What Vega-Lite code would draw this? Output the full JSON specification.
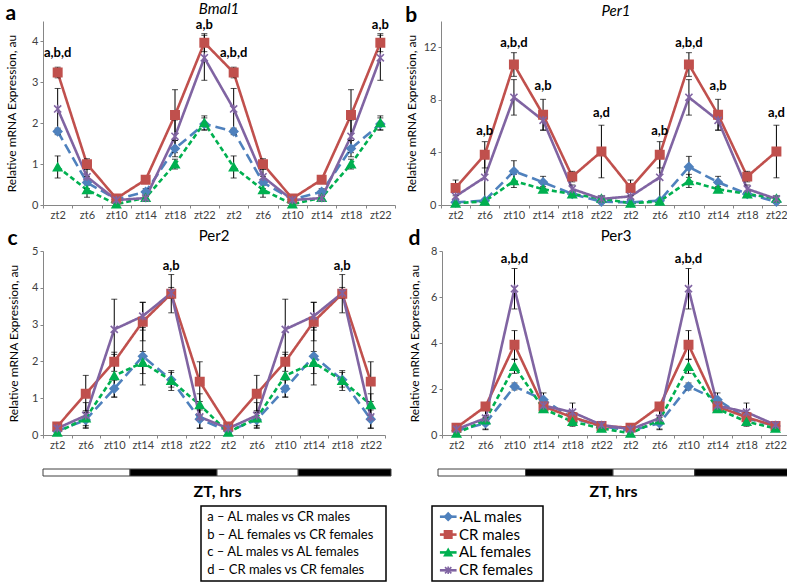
{
  "$schema": "https://vega.github.io/schema/vega-lite/v6.json",
  "background": "white",
  "padding": {"left": 5, "top": 1, "right": 2, "bottom": 0},
  "datasets": {
    "expr": [
      {"p":"a","s":"AL males","h":2,"v":1.80,"e":0.08},{"p":"a","s":"AL males","h":6,"v":0.55,"e":0.15},{"p":"a","s":"AL males","h":10,"v":0.14,"e":0.04},{"p":"a","s":"AL males","h":14,"v":0.32,"e":0.08},{"p":"a","s":"AL males","h":18,"v":1.38,"e":0.20},{"p":"a","s":"AL males","h":22,"v":1.98,"e":0.15},
      {"p":"a","s":"AL males","h":26,"v":1.80,"e":0.08},{"p":"a","s":"AL males","h":30,"v":0.55,"e":0.15},{"p":"a","s":"AL males","h":34,"v":0.14,"e":0.04},{"p":"a","s":"AL males","h":38,"v":0.32,"e":0.08},{"p":"a","s":"AL males","h":42,"v":1.38,"e":0.20},{"p":"a","s":"AL males","h":46,"v":1.98,"e":0.15},
      {"p":"a","s":"CR males","h":2,"v":3.24,"e":0.13},{"p":"a","s":"CR males","h":6,"v":1.00,"e":0.13},{"p":"a","s":"CR males","h":10,"v":0.16,"e":0.03},{"p":"a","s":"CR males","h":14,"v":0.62,"e":0.04},{"p":"a","s":"CR males","h":18,"v":2.20,"e":0.62},{"p":"a","s":"CR males","h":22,"v":3.97,"e":0.22},
      {"p":"a","s":"CR males","h":26,"v":3.24,"e":0.13},{"p":"a","s":"CR males","h":30,"v":1.00,"e":0.13},{"p":"a","s":"CR males","h":34,"v":0.16,"e":0.03},{"p":"a","s":"CR males","h":38,"v":0.62,"e":0.04},{"p":"a","s":"CR males","h":42,"v":2.20,"e":0.62},{"p":"a","s":"CR males","h":46,"v":3.97,"e":0.22},
      {"p":"a","s":"AL females","h":2,"v":0.93,"e":0.27},{"p":"a","s":"AL females","h":6,"v":0.37,"e":0.18},{"p":"a","s":"AL females","h":10,"v":0.02,"e":0.02},{"p":"a","s":"AL females","h":14,"v":0.18,"e":0.03},{"p":"a","s":"AL females","h":18,"v":1.00,"e":0.12},{"p":"a","s":"AL females","h":22,"v":2.01,"e":0.17},
      {"p":"a","s":"AL females","h":26,"v":0.93,"e":0.27},{"p":"a","s":"AL females","h":30,"v":0.37,"e":0.18},{"p":"a","s":"AL females","h":34,"v":0.02,"e":0.02},{"p":"a","s":"AL females","h":38,"v":0.18,"e":0.03},{"p":"a","s":"AL females","h":42,"v":1.00,"e":0.12},{"p":"a","s":"AL females","h":46,"v":2.01,"e":0.17},
      {"p":"a","s":"CR females","h":2,"v":2.35,"e":0.50},{"p":"a","s":"CR females","h":6,"v":0.69,"e":0.20},{"p":"a","s":"CR females","h":10,"v":0.12,"e":0.04},{"p":"a","s":"CR females","h":14,"v":0.17,"e":0.04},{"p":"a","s":"CR females","h":18,"v":1.68,"e":0.40},{"p":"a","s":"CR females","h":22,"v":3.60,"e":0.55},
      {"p":"a","s":"CR females","h":26,"v":2.35,"e":0.50},{"p":"a","s":"CR females","h":30,"v":0.69,"e":0.20},{"p":"a","s":"CR females","h":34,"v":0.12,"e":0.04},{"p":"a","s":"CR females","h":38,"v":0.17,"e":0.04},{"p":"a","s":"CR females","h":42,"v":1.68,"e":0.40},{"p":"a","s":"CR females","h":46,"v":3.60,"e":0.55},

      {"p":"b","s":"AL males","h":2,"v":0.20,"e":0.10},{"p":"b","s":"AL males","h":6,"v":0.33,"e":0.10},{"p":"b","s":"AL males","h":10,"v":2.57,"e":0.80},{"p":"b","s":"AL males","h":14,"v":1.73,"e":0.45},{"p":"b","s":"AL males","h":18,"v":0.84,"e":0.20},{"p":"b","s":"AL males","h":22,"v":0.25,"e":0.10},
      {"p":"b","s":"AL males","h":26,"v":0.20,"e":0.10},{"p":"b","s":"AL males","h":30,"v":0.33,"e":0.10},{"p":"b","s":"AL males","h":34,"v":2.90,"e":0.80},{"p":"b","s":"AL males","h":38,"v":1.73,"e":0.45},{"p":"b","s":"AL males","h":42,"v":0.84,"e":0.20},{"p":"b","s":"AL males","h":46,"v":0.25,"e":0.10},
      {"p":"b","s":"CR males","h":2,"v":1.30,"e":0.60},{"p":"b","s":"CR males","h":6,"v":3.82,"e":1.00},{"p":"b","s":"CR males","h":10,"v":10.69,"e":0.90},{"p":"b","s":"CR males","h":14,"v":6.87,"e":1.17},{"p":"b","s":"CR males","h":18,"v":2.16,"e":0.40},{"p":"b","s":"CR males","h":22,"v":4.07,"e":2.00},
      {"p":"b","s":"CR males","h":26,"v":1.30,"e":0.60},{"p":"b","s":"CR males","h":30,"v":3.82,"e":1.00},{"p":"b","s":"CR males","h":34,"v":10.69,"e":0.90},{"p":"b","s":"CR males","h":38,"v":6.87,"e":1.17},{"p":"b","s":"CR males","h":42,"v":2.16,"e":0.40},{"p":"b","s":"CR males","h":46,"v":4.07,"e":2.00},
      {"p":"b","s":"AL females","h":2,"v":0.13,"e":0.05},{"p":"b","s":"AL females","h":6,"v":0.28,"e":0.10},{"p":"b","s":"AL females","h":10,"v":1.83,"e":0.50},{"p":"b","s":"AL females","h":14,"v":1.20,"e":0.20},{"p":"b","s":"AL females","h":18,"v":0.84,"e":0.20},{"p":"b","s":"AL females","h":22,"v":0.50,"e":0.20},
      {"p":"b","s":"AL females","h":26,"v":0.13,"e":0.05},{"p":"b","s":"AL females","h":30,"v":0.28,"e":0.10},{"p":"b","s":"AL females","h":34,"v":1.83,"e":0.50},{"p":"b","s":"AL females","h":38,"v":1.20,"e":0.20},{"p":"b","s":"AL females","h":42,"v":0.84,"e":0.20},{"p":"b","s":"AL females","h":46,"v":0.50,"e":0.20},
      {"p":"b","s":"CR females","h":2,"v":0.66,"e":0.30},{"p":"b","s":"CR females","h":6,"v":2.11,"e":1.90},{"p":"b","s":"CR females","h":10,"v":8.19,"e":1.35},{"p":"b","s":"CR females","h":14,"v":6.44,"e":0.75},{"p":"b","s":"CR females","h":18,"v":1.22,"e":0.30},{"p":"b","s":"CR females","h":22,"v":0.46,"e":0.15},
      {"p":"b","s":"CR females","h":26,"v":0.66,"e":0.30},{"p":"b","s":"CR females","h":30,"v":2.11,"e":1.90},{"p":"b","s":"CR females","h":34,"v":8.19,"e":1.35},{"p":"b","s":"CR females","h":38,"v":6.44,"e":0.75},{"p":"b","s":"CR females","h":42,"v":1.22,"e":0.30},{"p":"b","s":"CR females","h":46,"v":0.46,"e":0.15},

      {"p":"c","s":"AL males","h":2,"v":0.11,"e":0.05},{"p":"c","s":"AL males","h":6,"v":0.41,"e":0.20},{"p":"c","s":"AL males","h":10,"v":1.26,"e":0.23},{"p":"c","s":"AL males","h":14,"v":2.14,"e":0.78},{"p":"c","s":"AL males","h":18,"v":1.50,"e":0.20},{"p":"c","s":"AL males","h":22,"v":0.43,"e":0.25},
      {"p":"c","s":"AL males","h":26,"v":0.11,"e":0.05},{"p":"c","s":"AL males","h":30,"v":0.41,"e":0.20},{"p":"c","s":"AL males","h":34,"v":1.26,"e":0.23},{"p":"c","s":"AL males","h":38,"v":2.14,"e":0.78},{"p":"c","s":"AL males","h":42,"v":1.50,"e":0.20},{"p":"c","s":"AL males","h":46,"v":0.43,"e":0.25},
      {"p":"c","s":"CR males","h":2,"v":0.23,"e":0.05},{"p":"c","s":"CR males","h":6,"v":1.12,"e":0.50},{"p":"c","s":"CR males","h":10,"v":1.99,"e":0.26},{"p":"c","s":"CR males","h":14,"v":3.08,"e":0.52},{"p":"c","s":"CR males","h":18,"v":3.84,"e":0.52},{"p":"c","s":"CR males","h":22,"v":1.45,"e":0.54},
      {"p":"c","s":"CR males","h":26,"v":0.23,"e":0.05},{"p":"c","s":"CR males","h":30,"v":1.12,"e":0.50},{"p":"c","s":"CR males","h":34,"v":1.99,"e":0.26},{"p":"c","s":"CR males","h":38,"v":3.08,"e":0.52},{"p":"c","s":"CR males","h":42,"v":3.84,"e":0.52},{"p":"c","s":"CR males","h":46,"v":1.45,"e":0.54},
      {"p":"c","s":"AL females","h":2,"v":0.07,"e":0.03},{"p":"c","s":"AL females","h":6,"v":0.46,"e":0.20},{"p":"c","s":"AL females","h":10,"v":1.61,"e":0.58},{"p":"c","s":"AL females","h":14,"v":1.97,"e":0.30},{"p":"c","s":"AL females","h":18,"v":1.48,"e":0.27},{"p":"c","s":"AL females","h":22,"v":0.82,"e":0.30},
      {"p":"c","s":"AL females","h":26,"v":0.07,"e":0.03},{"p":"c","s":"AL females","h":30,"v":0.46,"e":0.20},{"p":"c","s":"AL females","h":34,"v":1.61,"e":0.58},{"p":"c","s":"AL females","h":38,"v":1.97,"e":0.30},{"p":"c","s":"AL females","h":42,"v":1.48,"e":0.27},{"p":"c","s":"AL females","h":46,"v":0.82,"e":0.30},
      {"p":"c","s":"CR females","h":2,"v":0.18,"e":0.05},{"p":"c","s":"CR females","h":6,"v":0.53,"e":0.35},{"p":"c","s":"CR females","h":10,"v":2.87,"e":0.82},{"p":"c","s":"CR females","h":14,"v":3.23,"e":0.38},{"p":"c","s":"CR females","h":18,"v":3.86,"e":0.15},{"p":"c","s":"CR females","h":22,"v":0.49,"e":0.30},
      {"p":"c","s":"CR females","h":26,"v":0.18,"e":0.05},{"p":"c","s":"CR females","h":30,"v":0.53,"e":0.35},{"p":"c","s":"CR females","h":34,"v":2.87,"e":0.82},{"p":"c","s":"CR females","h":38,"v":3.23,"e":0.38},{"p":"c","s":"CR females","h":42,"v":3.86,"e":0.15},{"p":"c","s":"CR females","h":46,"v":0.49,"e":0.30},

      {"p":"d","s":"AL males","h":2,"v":0.19,"e":0.05},{"p":"d","s":"AL males","h":6,"v":0.51,"e":0.25},{"p":"d","s":"AL males","h":10,"v":2.11,"e":0.15},{"p":"d","s":"AL males","h":14,"v":1.53,"e":0.30},{"p":"d","s":"AL males","h":18,"v":0.73,"e":0.15},{"p":"d","s":"AL males","h":22,"v":0.39,"e":0.05},
      {"p":"d","s":"AL males","h":26,"v":0.19,"e":0.05},{"p":"d","s":"AL males","h":30,"v":0.51,"e":0.25},{"p":"d","s":"AL males","h":34,"v":2.11,"e":0.15},{"p":"d","s":"AL males","h":38,"v":1.53,"e":0.30},{"p":"d","s":"AL males","h":42,"v":0.73,"e":0.15},{"p":"d","s":"AL males","h":46,"v":0.39,"e":0.05},
      {"p":"d","s":"CR males","h":2,"v":0.32,"e":0.05},{"p":"d","s":"CR males","h":6,"v":1.24,"e":0.16},{"p":"d","s":"CR males","h":10,"v":3.92,"e":0.62},{"p":"d","s":"CR males","h":14,"v":1.24,"e":0.15},{"p":"d","s":"CR males","h":18,"v":0.77,"e":0.20},{"p":"d","s":"CR males","h":22,"v":0.39,"e":0.05},
      {"p":"d","s":"CR males","h":26,"v":0.32,"e":0.05},{"p":"d","s":"CR males","h":30,"v":1.24,"e":0.16},{"p":"d","s":"CR males","h":34,"v":3.92,"e":0.62},{"p":"d","s":"CR males","h":38,"v":1.24,"e":0.15},{"p":"d","s":"CR males","h":42,"v":0.77,"e":0.20},{"p":"d","s":"CR males","h":46,"v":0.39,"e":0.05},
      {"p":"d","s":"AL females","h":2,"v":0.07,"e":0.03},{"p":"d","s":"AL females","h":6,"v":0.65,"e":0.20},{"p":"d","s":"AL females","h":10,"v":2.98,"e":0.30},{"p":"d","s":"AL females","h":14,"v":1.14,"e":0.10},{"p":"d","s":"AL females","h":18,"v":0.58,"e":0.20},{"p":"d","s":"AL females","h":22,"v":0.29,"e":0.05},
      {"p":"d","s":"AL females","h":26,"v":0.07,"e":0.03},{"p":"d","s":"AL females","h":30,"v":0.65,"e":0.20},{"p":"d","s":"AL females","h":34,"v":2.98,"e":0.30},{"p":"d","s":"AL females","h":38,"v":1.14,"e":0.10},{"p":"d","s":"AL females","h":42,"v":0.58,"e":0.20},{"p":"d","s":"AL females","h":46,"v":0.29,"e":0.05},
      {"p":"d","s":"CR females","h":2,"v":0.25,"e":0.05},{"p":"d","s":"CR females","h":6,"v":0.73,"e":0.50},{"p":"d","s":"CR females","h":10,"v":6.36,"e":0.88},{"p":"d","s":"CR females","h":14,"v":1.28,"e":0.20},{"p":"d","s":"CR females","h":18,"v":0.99,"e":0.40},{"p":"d","s":"CR females","h":22,"v":0.44,"e":0.05},
      {"p":"d","s":"CR females","h":26,"v":0.25,"e":0.05},{"p":"d","s":"CR females","h":30,"v":0.73,"e":0.50},{"p":"d","s":"CR females","h":34,"v":6.36,"e":0.88},{"p":"d","s":"CR females","h":38,"v":1.28,"e":0.20},{"p":"d","s":"CR females","h":42,"v":0.99,"e":0.40},{"p":"d","s":"CR females","h":46,"v":0.44,"e":0.05}
    ],
    "sig": [
      {"p":"a","h":2,"t":"a,b,d","y":3.72},{"p":"a","h":22,"t":"a,b","y":4.41},{"p":"a","h":26,"t":"a,b,d","y":3.72},{"p":"a","h":46,"t":"a,b","y":4.41},
      {"p":"b","h":6,"t":"a,b","y":5.6},{"p":"b","h":10,"t":"a,b,d","y":12.35},{"p":"b","h":14,"t":"a,b","y":9.03},{"p":"b","h":22,"t":"a,d","y":7.02},
      {"p":"b","h":30,"t":"a,b","y":5.6},{"p":"b","h":34,"t":"a,b,d","y":12.35},{"p":"b","h":38,"t":"a,b","y":9.03},{"p":"b","h":46,"t":"a,d","y":7.02},
      {"p":"c","h":18,"t":"a,b","y":4.59},{"p":"c","h":42,"t":"a,b","y":4.59},
      {"p":"d","h":10,"t":"a,b,d","y":7.67},{"p":"d","h":34,"t":"a,b,d","y":7.67}
    ],
    "phases": [
      {"a":0,"b":3,"ph":"light"},{"a":3,"b":6,"ph":"dark"},{"a":6,"b":8.8,"ph":"light"},{"a":8.8,"b":12,"ph":"dark"}
    ],
    "notes": [
      {"i":1,"t":"a – AL males vs CR males"},{"i":2,"t":"b – AL females vs CR females"},{"i":3,"t":"c – AL males vs AL females"},{"i":4,"t":"d – CR males vs CR females"}
    ],
    "series": [
      {"s":"AL males","lab":"·AL males"},{"s":"CR males","lab":"CR males"},{"s":"AL females","lab":"AL females"},{"s":"CR females","lab":"CR females"}
    ],
    "empty": []
  },
  "vconcat": [
    {
      "vconcat": [
        {
          "hconcat": [
            {
              "title": {"text": "a", "anchor": "start", "fontSize": 21, "fontWeight": "bold", "offset": -22},
              "vconcat": [{
                "title": {"text": "Bmal1", "fontStyle": "italic", "fontSize": 15, "fontWeight": "normal", "offset": 2},
                "width": 352, "height": 184,
                "encoding": {"x": {"field": "h", "type": "ordinal", "scale": {"type": "band", "paddingInner": 0, "paddingOuter": 0}, "axis": {"title": null, "labelExpr": "isNumber(datum.value) ? 'zt' + (datum.value % 24) : ''", "labelAngle": 0, "tickBand": "extent", "labelPadding": 1}}},
                "layer": [
                  {"data": {"name": "expr"}, "transform": [{"filter": "datum.p === 'a'"}],
                   "mark": {"type": "line", "strokeWidth": 2.6},
                   "encoding": {
                     "y": {"field": "v", "type": "quantitative", "scale": {"domain": [0, 4.5], "nice": false}, "axis": {"values": [0,1,2,3,4], "title": "Relative mRNA Expression, au", "titlePadding": 13}},
                     "color": {"field": "s", "type": "nominal", "scale": {"domain": ["AL males","CR males","AL females","CR females"], "range": ["#4F81BD","#C0504D","#00B050","#8064A2"]}, "legend": null},
                     "strokeDash": {"field": "s", "type": "nominal", "scale": {"domain": ["AL males","CR males","AL females","CR females"], "range": [[10,5],[1,0],[5,3],[1,0]]}, "legend": null}}},
                  {"data": {"name": "expr"}, "transform": [{"filter": "datum.p === 'a'"}],
                   "mark": {"type": "errorbar", "color": "black", "thickness": 1, "ticks": {"size": 6, "thickness": 1}},
                   "encoding": {"y": {"field": "v", "type": "quantitative", "axis": {"values": [0,1,2,3,4], "title": "Relative mRNA Expression, au", "titlePadding": 13}}, "yError": {"field": "e"}}},
                  {"data": {"name": "expr"}, "transform": [{"filter": "datum.p === 'a'"}],
                   "mark": {"type": "point", "filled": true, "size": 70, "strokeWidth": 1.6, "opacity": 1},
                   "encoding": {
                     "y": {"field": "v", "type": "quantitative", "axis": {"values": [0,1,2,3,4], "title": "Relative mRNA Expression, au", "titlePadding": 13}},
                     "shape": {"field": "s", "type": "nominal", "scale": {"domain": ["AL males","CR males","AL females","CR females"], "range": ["diamond","square","triangle-up","M-0.85,-0.85L0.85,0.85M-0.85,0.85L0.85,-0.85M0,-1L0,1"]}, "legend": null},
                     "fill": {"field": "s", "type": "nominal", "scale": {"domain": ["AL males","CR males","AL females","CR females"], "range": ["#4F81BD","#C0504D","#00B050","#8064A2"]}, "legend": null},
                     "stroke": {"field": "s", "type": "nominal", "scale": {"domain": ["AL males","CR males","AL females","CR females"], "range": ["#4F81BD","#C0504D","#00B050","#8064A2"]}, "legend": null}}},
                  {"data": {"name": "sig"}, "transform": [{"filter": "datum.p === 'a'"}],
                   "mark": {"type": "text", "fontWeight": "bold", "fontSize": 13, "color": "black"},
                   "encoding": {"y": {"field": "y", "type": "quantitative", "axis": {"values": [0,1,2,3,4], "title": "Relative mRNA Expression, au", "titlePadding": 13}}, "text": {"field": "t"}}}
                ]
              }]
            },
            {
              "title": {"text": "b", "anchor": "start", "fontSize": 21, "fontWeight": "bold", "offset": -22},
              "vconcat": [{
                "title": {"text": "Per1", "fontStyle": "italic", "fontSize": 15, "fontWeight": "normal", "offset": 2},
                "width": 350, "height": 184,
                "encoding": {"x": {"field": "h", "type": "ordinal", "scale": {"type": "band", "paddingInner": 0, "paddingOuter": 0}, "axis": {"title": null, "labelExpr": "isNumber(datum.value) ? 'zt' + (datum.value % 24) : ''", "labelAngle": 0, "tickBand": "extent", "labelPadding": 1}}},
                "layer": [
                  {"data": {"name": "expr"}, "transform": [{"filter": "datum.p === 'b'"}],
                   "mark": {"type": "line", "strokeWidth": 2.6},
                   "encoding": {
                     "y": {"field": "v", "type": "quantitative", "scale": {"domain": [0, 14], "nice": false}, "axis": {"values": [0,4,8,12], "title": "Relative mRNA Expression, au", "titlePadding": 5}},
                     "color": {"field": "s", "type": "nominal", "scale": {"domain": ["AL males","CR males","AL females","CR females"], "range": ["#4F81BD","#C0504D","#00B050","#8064A2"]}, "legend": null},
                     "strokeDash": {"field": "s", "type": "nominal", "scale": {"domain": ["AL males","CR males","AL females","CR females"], "range": [[10,5],[1,0],[5,3],[1,0]]}, "legend": null}}},
                  {"data": {"name": "expr"}, "transform": [{"filter": "datum.p === 'b'"}],
                   "mark": {"type": "errorbar", "color": "black", "thickness": 1, "ticks": {"size": 6, "thickness": 1}},
                   "encoding": {"y": {"field": "v", "type": "quantitative", "axis": {"values": [0,4,8,12], "title": "Relative mRNA Expression, au", "titlePadding": 5}}, "yError": {"field": "e"}}},
                  {"data": {"name": "expr"}, "transform": [{"filter": "datum.p === 'b'"}],
                   "mark": {"type": "point", "filled": true, "size": 70, "strokeWidth": 1.6, "opacity": 1},
                   "encoding": {
                     "y": {"field": "v", "type": "quantitative", "axis": {"values": [0,4,8,12], "title": "Relative mRNA Expression, au", "titlePadding": 5}},
                     "shape": {"field": "s", "type": "nominal", "scale": {"domain": ["AL males","CR males","AL females","CR females"], "range": ["diamond","square","triangle-up","M-0.85,-0.85L0.85,0.85M-0.85,0.85L0.85,-0.85M0,-1L0,1"]}, "legend": null},
                     "fill": {"field": "s", "type": "nominal", "scale": {"domain": ["AL males","CR males","AL females","CR females"], "range": ["#4F81BD","#C0504D","#00B050","#8064A2"]}, "legend": null},
                     "stroke": {"field": "s", "type": "nominal", "scale": {"domain": ["AL males","CR males","AL females","CR females"], "range": ["#4F81BD","#C0504D","#00B050","#8064A2"]}, "legend": null}}},
                  {"data": {"name": "sig"}, "transform": [{"filter": "datum.p === 'b'"}],
                   "mark": {"type": "text", "fontWeight": "bold", "fontSize": 13, "color": "black"},
                   "encoding": {"y": {"field": "y", "type": "quantitative", "axis": {"values": [0,4,8,12], "title": "Relative mRNA Expression, au", "titlePadding": 5}}, "text": {"field": "t"}}}
                ]
              }]
            }
          ],
          "spacing": 9
        },
        {
          "hconcat": [
            {
              "title": {"text": "c", "anchor": "start", "fontSize": 21, "fontWeight": "bold", "offset": -20},
              "vconcat": [{
                "title": {"text": "Per2", "fontStyle": "normal", "fontSize": 15, "fontWeight": "normal", "offset": 1},
                "width": 342, "height": 184,
                "encoding": {"x": {"field": "h", "type": "ordinal", "scale": {"type": "band", "paddingInner": 0, "paddingOuter": 0}, "axis": {"title": null, "labelExpr": "isNumber(datum.value) ? 'zt' + (datum.value % 24) : ''", "labelAngle": 0, "tickBand": "extent", "labelPadding": 1}}},
                "layer": [
                  {"data": {"name": "expr"}, "transform": [{"filter": "datum.p === 'c'"}],
                   "mark": {"type": "line", "strokeWidth": 2.6},
                   "encoding": {
                     "y": {"field": "v", "type": "quantitative", "scale": {"domain": [0, 5], "nice": false}, "axis": {"values": [0,1,2,3,4,5], "title": "Relative mRNA Expression, au", "titlePadding": 11, "labelOverlap": false}},
                     "color": {"field": "s", "type": "nominal", "scale": {"domain": ["AL males","CR males","AL females","CR females"], "range": ["#4F81BD","#C0504D","#00B050","#8064A2"]}, "legend": null},
                     "strokeDash": {"field": "s", "type": "nominal", "scale": {"domain": ["AL males","CR males","AL females","CR females"], "range": [[10,5],[1,0],[5,3],[1,0]]}, "legend": null}}},
                  {"data": {"name": "expr"}, "transform": [{"filter": "datum.p === 'c'"}],
                   "mark": {"type": "errorbar", "color": "black", "thickness": 1, "ticks": {"size": 6, "thickness": 1}},
                   "encoding": {"y": {"field": "v", "type": "quantitative", "axis": {"values": [0,1,2,3,4,5], "title": "Relative mRNA Expression, au", "titlePadding": 11, "labelOverlap": false}}, "yError": {"field": "e"}}},
                  {"data": {"name": "expr"}, "transform": [{"filter": "datum.p === 'c'"}],
                   "mark": {"type": "point", "filled": true, "size": 70, "strokeWidth": 1.6, "opacity": 1},
                   "encoding": {
                     "y": {"field": "v", "type": "quantitative", "axis": {"values": [0,1,2,3,4,5], "title": "Relative mRNA Expression, au", "titlePadding": 11, "labelOverlap": false}},
                     "shape": {"field": "s", "type": "nominal", "scale": {"domain": ["AL males","CR males","AL females","CR females"], "range": ["diamond","square","triangle-up","M-0.85,-0.85L0.85,0.85M-0.85,0.85L0.85,-0.85M0,-1L0,1"]}, "legend": null},
                     "fill": {"field": "s", "type": "nominal", "scale": {"domain": ["AL males","CR males","AL females","CR females"], "range": ["#4F81BD","#C0504D","#00B050","#8064A2"]}, "legend": null},
                     "stroke": {"field": "s", "type": "nominal", "scale": {"domain": ["AL males","CR males","AL females","CR females"], "range": ["#4F81BD","#C0504D","#00B050","#8064A2"]}, "legend": null}}},
                  {"data": {"name": "sig"}, "transform": [{"filter": "datum.p === 'c'"}],
                   "mark": {"type": "text", "fontWeight": "bold", "fontSize": 13, "color": "black"},
                   "encoding": {"y": {"field": "y", "type": "quantitative", "axis": {"values": [0,1,2,3,4,5], "title": "Relative mRNA Expression, au", "titlePadding": 11, "labelOverlap": false}}, "text": {"field": "t"}}}
                ]
              }]
            },
            {
              "title": {"text": "d", "anchor": "start", "fontSize": 21, "fontWeight": "bold", "offset": -20},
              "vconcat": [{
                "title": {"text": "Per3", "fontStyle": "normal", "fontSize": 15, "fontWeight": "normal", "offset": 1},
                "width": 348, "height": 184,
                "encoding": {"x": {"field": "h", "type": "ordinal", "scale": {"type": "band", "paddingInner": 0, "paddingOuter": 0}, "axis": {"title": null, "labelExpr": "isNumber(datum.value) ? 'zt' + (datum.value % 24) : ''", "labelAngle": 0, "tickBand": "extent", "labelPadding": 1}}},
                "layer": [
                  {"data": {"name": "expr"}, "transform": [{"filter": "datum.p === 'd'"}],
                   "mark": {"type": "line", "strokeWidth": 2.6},
                   "encoding": {
                     "y": {"field": "v", "type": "quantitative", "scale": {"domain": [0, 8], "nice": false}, "axis": {"values": [0,2,4,6,8], "title": "Relative mRNA Expression, au", "titlePadding": 9}},
                     "color": {"field": "s", "type": "nominal", "scale": {"domain": ["AL males","CR males","AL females","CR females"], "range": ["#4F81BD","#C0504D","#00B050","#8064A2"]}, "legend": null},
                     "strokeDash": {"field": "s", "type": "nominal", "scale": {"domain": ["AL males","CR males","AL females","CR females"], "range": [[10,5],[1,0],[5,3],[1,0]]}, "legend": null}}},
                  {"data": {"name": "expr"}, "transform": [{"filter": "datum.p === 'd'"}],
                   "mark": {"type": "errorbar", "color": "black", "thickness": 1, "ticks": {"size": 6, "thickness": 1}},
                   "encoding": {"y": {"field": "v", "type": "quantitative", "axis": {"values": [0,2,4,6,8], "title": "Relative mRNA Expression, au", "titlePadding": 9}}, "yError": {"field": "e"}}},
                  {"data": {"name": "expr"}, "transform": [{"filter": "datum.p === 'd'"}],
                   "mark": {"type": "point", "filled": true, "size": 70, "strokeWidth": 1.6, "opacity": 1},
                   "encoding": {
                     "y": {"field": "v", "type": "quantitative", "axis": {"values": [0,2,4,6,8], "title": "Relative mRNA Expression, au", "titlePadding": 9}},
                     "shape": {"field": "s", "type": "nominal", "scale": {"domain": ["AL males","CR males","AL females","CR females"], "range": ["diamond","square","triangle-up","M-0.85,-0.85L0.85,0.85M-0.85,0.85L0.85,-0.85M0,-1L0,1"]}, "legend": null},
                     "fill": {"field": "s", "type": "nominal", "scale": {"domain": ["AL males","CR males","AL females","CR females"], "range": ["#4F81BD","#C0504D","#00B050","#8064A2"]}, "legend": null},
                     "stroke": {"field": "s", "type": "nominal", "scale": {"domain": ["AL males","CR males","AL females","CR females"], "range": ["#4F81BD","#C0504D","#00B050","#8064A2"]}, "legend": null}}},
                  {"data": {"name": "sig"}, "transform": [{"filter": "datum.p === 'd'"}],
                   "mark": {"type": "text", "fontWeight": "bold", "fontSize": 13, "color": "black"},
                   "encoding": {"y": {"field": "y", "type": "quantitative", "axis": {"values": [0,2,4,6,8], "title": "Relative mRNA Expression, au", "titlePadding": 9}}, "text": {"field": "t"}}}
                ]
              }]
            }
          ],
          "spacing": 22
        }
      ],
      "spacing": 8
    },
    {
      "vconcat": [
        {
          "hconcat": [
            {"width": 348, "height": 7, "data": {"name": "phases"},
             "mark": {"type": "rect", "stroke": "#404040", "strokeWidth": 1},
             "encoding": {
               "x": {"field": "a", "type": "quantitative", "scale": {"domain": [0, 12], "nice": false}, "axis": {"title": "ZT, hrs", "labels": false, "ticks": false, "domain": false, "titleFontSize": 16, "titleFontWeight": "bold", "titlePadding": 7}},
               "x2": {"field": "b"},
               "fill": {"field": "ph", "type": "nominal", "scale": {"domain": ["light","dark"], "range": ["white","black"]}, "legend": null}}},
            {"width": 45, "height": 7, "data": {"name": "empty"}, "mark": "point"},
            {"width": 350, "height": 7, "data": {"name": "phases"},
             "mark": {"type": "rect", "stroke": "#404040", "strokeWidth": 1},
             "encoding": {
               "x": {"field": "a", "type": "quantitative", "scale": {"domain": [0, 12], "nice": false}, "axis": {"title": "ZT, hrs", "labels": false, "ticks": false, "domain": false, "titleFontSize": 16, "titleFontWeight": "bold", "titlePadding": 7}},
               "x2": {"field": "b"},
               "fill": {"field": "ph", "type": "nominal", "scale": {"domain": ["light","dark"], "range": ["white","black"]}, "legend": null}}}
          ],
          "spacing": 0
        },
        {
          "hconcat": [
            {"width": 157, "height": 75, "data": {"name": "empty"}, "mark": "point"},
            {"width": 185, "height": 75, "view": {"stroke": "black", "strokeWidth": 1.5}, "data": {"name": "notes"},
             "mark": {"type": "text", "align": "left", "fontSize": 13, "color": "black"},
             "encoding": {
               "x": {"datum": 0, "type": "quantitative", "scale": {"domain": [-0.35, 10]}, "axis": null},
               "y": {"field": "i", "type": "ordinal", "scale": {"type": "point", "padding": 0.6}, "axis": null},
               "text": {"field": "t"}}},
            {"width": 44, "height": 75, "data": {"name": "empty"}, "mark": "point"},
            {"width": 111, "height": 75, "view": {"stroke": "black", "strokeWidth": 1.5}, "data": {"name": "series"},
             "encoding": {"y": {"field": "s", "type": "nominal", "sort": ["AL males","CR males","AL females","CR females"], "scale": {"type": "point", "padding": 0.6}, "axis": null}},
             "layer": [
               {"mark": {"type": "rule", "strokeWidth": 2.6},
                "encoding": {"x": {"datum": 0, "type": "quantitative", "scale": {"domain": [-0.25, 6.25]}, "axis": null}, "x2": {"datum": 1.05},
                  "color": {"field": "s", "type": "nominal", "scale": {"domain": ["AL males","CR males","AL females","CR females"], "range": ["#4F81BD","#C0504D","#00B050","#8064A2"]}, "legend": null}}},
               {"mark": {"type": "point", "filled": true, "size": 55, "strokeWidth": 1.6, "opacity": 1},
                "encoding": {"x": {"datum": 0.52, "type": "quantitative"},
                  "shape": {"field": "s", "type": "nominal", "scale": {"domain": ["AL males","CR males","AL females","CR females"], "range": ["diamond","square","triangle-up","M-0.85,-0.85L0.85,0.85M-0.85,0.85L0.85,-0.85M0,-1L0,1"]}, "legend": null},
                  "fill": {"field": "s", "type": "nominal", "scale": {"domain": ["AL males","CR males","AL females","CR females"], "range": ["#4F81BD","#C0504D","#00B050","#8064A2"]}, "legend": null},
                  "stroke": {"field": "s", "type": "nominal", "scale": {"domain": ["AL males","CR males","AL females","CR females"], "range": ["#4F81BD","#C0504D","#00B050","#8064A2"]}, "legend": null}}},
               {"mark": {"type": "text", "align": "left", "fontSize": 15, "color": "black"},
                "encoding": {"x": {"datum": 1.2, "type": "quantitative"}, "text": {"field": "lab"}}}
             ]}
          ],
          "spacing": 0
        }
      ],
      "spacing": 6,
      "resolve": {"scale": {"fill": "independent"}}
    }
  ],
  "spacing": 18,
  "resolve": {"scale": {"fill": "independent"}},
  "config": {
    "font": "Lato",
    "view": {"stroke": null},
    "axis": {"grid": false, "domainColor": "#868686", "tickColor": "#868686", "labelColor": "#404040", "labelFontSize": 11, "titleFontSize": 12, "titleFontWeight": "normal", "titleColor": "black", "tickSize": 3, "labelFont": "Lato", "titleFont": "Lato", "labelOverlap": false},
    "title": {"font": "Lato", "color": "black"}
  }
}
